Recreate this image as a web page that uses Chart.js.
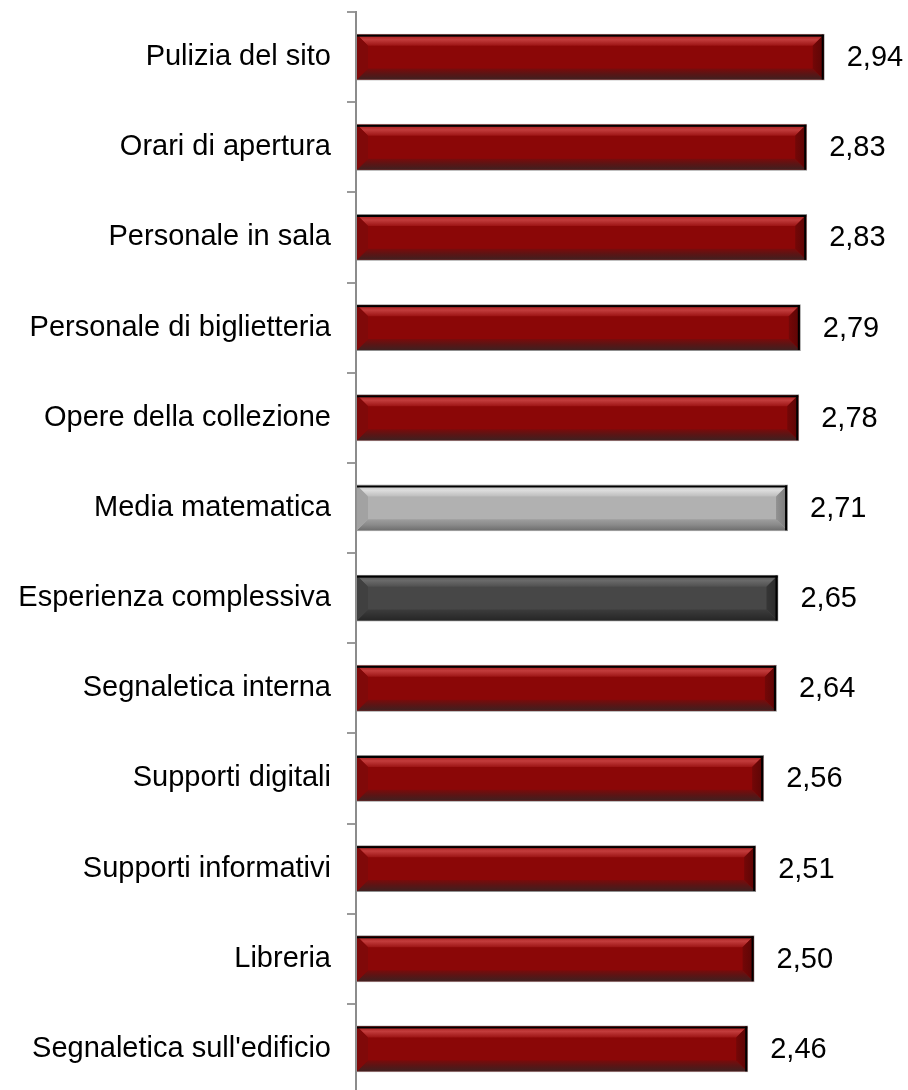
<!DOCTYPE html>
<html lang="it">
<head>
<meta charset="utf-8">
<title>Valutazione dei servizi</title>
<script src="https://cdn.jsdelivr.net/npm/chart.js@4.4.1/dist/chart.umd.min.js"></script>
<style>
  html, body { margin: 0; padding: 0; background: #ffffff; overflow: hidden; }
  #wrap { width: 914px; height: 1100px; }
</style>
</head>
<body>
<div id="wrap"><canvas id="chart" width="914" height="1100"></canvas></div>
<script>
// Voci valutate (dall'alto verso il basso)
const categories = [
  "Pulizia del sito",
  "Orari di apertura",
  "Personale in sala",
  "Personale di biglietteria",
  "Opere della collezione",
  "Media matematica",
  "Esperienza complessiva",
  "Segnaletica interna",
  "Supporti digitali",
  "Supporti informativi",
  "Libreria",
  "Segnaletica sull'edificio"
];

// Punteggio medio per voce
const scores = [2.94, 2.83, 2.83, 2.79, 2.78, 2.71, 2.65, 2.64, 2.56, 2.51, 2.50, 2.46];

// Tipo di barra: voce singola, media, giudizio complessivo
const barKinds = ["item", "item", "item", "item", "item", "mean", "overall", "item", "item", "item", "item", "item"];

// Tavolozze per l'effetto smussato
const palettes = {
  item: {
    body: "#8b0707",
    top: ["#a31919", "#c23c3c", "#9c1414"],
    bottom: ["#7a0b0b", "#5a1515", "#402020"],
    left: "#800909",
    right: ["#740707", "#5c0505"]
  },
  mean: {
    body: "#b1b1b1",
    top: ["#c4c4c4", "#dcdcdc", "#bdbdbd"],
    bottom: ["#9e9e9e", "#8a8a8a", "#6e6e6e"],
    left: "#a2a2a2",
    right: ["#929292", "#7a7a7a"]
  },
  overall: {
    body: "#474747",
    top: ["#575757", "#6a6a6a", "#505050"],
    bottom: ["#3c3c3c", "#313131", "#262626"],
    left: "#404040",
    right: ["#363636", "#2b2b2b"]
  }
};

const FONT = "'Liberation Sans', Arial, Helvetica, sans-serif";
const formatIt = v => v.toFixed(2).replace(".", ",");

// Ombreggiatura a cornice smussata sopra ogni barra
const bevelPlugin = {
  id: "bevel",
  afterDatasetsDraw(chart) {
    const ctx = chart.ctx;
    const meta = chart.getDatasetMeta(0);
    const b = 11;
    meta.data.forEach((bar, i) => {
      const p = bar.getProps(["x", "y", "base", "height"], true);
      const pal = palettes[barKinds[i]];
      const x0 = p.base + 1, x1 = p.x - 1;
      const y0 = p.y - p.height / 2 + 1, y1 = p.y + p.height / 2 - 1;
      ctx.save();

      // fascia superiore
      let g = ctx.createLinearGradient(0, y0, 0, y0 + b);
      g.addColorStop(0, pal.top[0]);
      g.addColorStop(0.45, pal.top[1]);
      g.addColorStop(1, pal.top[2]);
      ctx.fillStyle = g;
      ctx.beginPath();
      ctx.moveTo(x0, y0); ctx.lineTo(x1, y0);
      ctx.lineTo(x1 - b, y0 + b); ctx.lineTo(x0 + b, y0 + b);
      ctx.closePath(); ctx.fill();

      // fascia inferiore
      g = ctx.createLinearGradient(0, y1 - b, 0, y1);
      g.addColorStop(0, pal.bottom[0]);
      g.addColorStop(0.5, pal.bottom[1]);
      g.addColorStop(1, pal.bottom[2]);
      ctx.fillStyle = g;
      ctx.beginPath();
      ctx.moveTo(x0, y1); ctx.lineTo(x1, y1);
      ctx.lineTo(x1 - b, y1 - b); ctx.lineTo(x0 + b, y1 - b);
      ctx.closePath(); ctx.fill();

      // lato sinistro
      ctx.fillStyle = pal.left;
      ctx.beginPath();
      ctx.moveTo(x0, y0); ctx.lineTo(x0 + b, y0 + b);
      ctx.lineTo(x0 + b, y1 - b); ctx.lineTo(x0, y1);
      ctx.closePath(); ctx.fill();

      // lato destro
      g = ctx.createLinearGradient(x1 - b, 0, x1, 0);
      g.addColorStop(0, pal.right[0]);
      g.addColorStop(1, pal.right[1]);
      ctx.fillStyle = g;
      ctx.beginPath();
      ctx.moveTo(x1, y0); ctx.lineTo(x1 - b, y0 + b);
      ctx.lineTo(x1 - b, y1 - b); ctx.lineTo(x1, y1);
      ctx.closePath(); ctx.fill();

      // bordo scuro in alto e a destra
      ctx.fillStyle = "#000000";
      ctx.fillRect(x0, y0, x1 - x0, 2);
      ctx.fillRect(x1 - 2, y0, 2, y1 - y0);

      ctx.restore();
    });
  }
};

// Etichette dei valori a destra delle barre
const valueLabelPlugin = {
  id: "valueLabels",
  afterDatasetsDraw(chart) {
    const ctx = chart.ctx;
    const meta = chart.getDatasetMeta(0);
    ctx.save();
    ctx.font = "29px " + FONT;
    ctx.fillStyle = "#000000";
    ctx.textAlign = "left";
    ctx.textBaseline = "middle";
    meta.data.forEach((bar, i) => {
      const p = bar.getProps(["x", "y"], true);
      ctx.fillText(formatIt(scores[i]), p.x + 22, p.y + 1);
    });
    ctx.restore();
  }
};

new Chart(document.getElementById("chart"), {
  type: "bar",
  data: {
    labels: categories,
    datasets: [{
      data: scores,
      backgroundColor: barKinds.map(k => palettes[k].body),
      borderColor: "#8f8f8f",
      borderWidth: 1,
      borderSkipped: false,
      categoryPercentage: 1,
      barPercentage: 0.52
    }]
  },
  options: {
    indexAxis: "y",
    responsive: false,
    animation: false,
    devicePixelRatio: 1,
    layout: { padding: { top: 12, bottom: 6, left: 0, right: 0 } },
    plugins: {
      legend: { display: false },
      tooltip: { enabled: false }
    },
    scales: {
      x: {
        display: false,
        min: 0,
        max: 3.5
      },
      y: {
        offset: true,
        grid: {
          offset: true,
          drawOnChartArea: false,
          drawTicks: true,
          tickLength: 9,
          color: "#9a9a9a",
          lineWidth: 2
        },
        border: { display: true, color: "#8c8c8c", width: 2 },
        ticks: {
          color: "#000000",
          padding: 16,
          font: { family: FONT, size: 29 }
        },
        afterFit(scale) {
          scale.width = 356;
          scale.paddingTop = 0;
          scale.paddingBottom = 0;
        }
      }
    }
  },
  plugins: [bevelPlugin, valueLabelPlugin]
});
</script>
</body>
</html>
